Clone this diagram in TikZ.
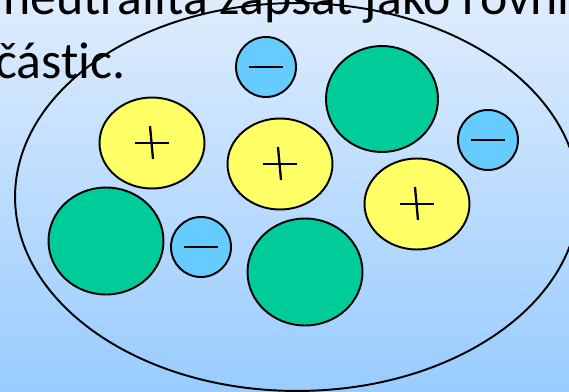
\documentclass[tikz,border=0pt]{standalone}
\usepackage{fontspec}
\setmainfont{Carlito}[Ligatures={NoCommon,NoRare}]
\usetikzlibrary{shapes.geometric}
\definecolor{skytop}{RGB}{222,236,253}
\definecolor{skybottom}{RGB}{153,204,255}
\definecolor{posyellow}{RGB}{255,255,102}
\definecolor{neutralgreen}{RGB}{0,204,153}
\definecolor{negblue}{RGB}{102,204,255}

\begin{document}
\begin{tikzpicture}[x=0.02cm, y=-0.02cm,
  particle/.style={draw, ellipse, line width=1.1pt, inner sep=0pt},
  kation/.style={particle, fill=posyellow, minimum width=2.1cm, minimum height=1.82cm},
  neutral/.style={particle, fill=neutralgreen, minimum width=2.3cm, minimum height=2.14cm},
  anion/.style={particle, fill=negblue, minimum width=1.2cm, minimum height=1.2cm},
  sign/.style={line width=1.3pt},
  slidetext/.style={font=\fontsize{29.5}{35}\selectfont, inner sep=0pt},
]
% Frame and background
\useasboundingbox (0,0) rectangle (569,392);
\clip (0,0) rectangle (569,392);
\fill[top color=skytop, bottom color=skybottom] (0,0) rectangle (569,392);

% Slide text (cut off at the edges)
\node[slidetext, anchor=base west] (line1) at (3,14) {neutralita zapsat jako rovni};
\node[slidetext, anchor=base east] (line2) at (126,78) {částic.};

% Solution boundary
\node[draw, ellipse, line width=1.1pt, inner sep=0pt,
      minimum width=11.28cm, minimum height=7.76cm] (solution) at (297,197) {};

% Neutral particles
\node[neutral, minimum width=2.24cm, minimum height=2.12cm] (g1) at (382,99) {};
\node[neutral] (g2) at (106,241) {};
\node[neutral] (g3) at (305,272) {};

% Cations
\node[kation] (y1) at (152,143) {};
\node[kation] (y2) at (280,164) {};
\node[kation] (y3) at (417,204) {};

% Anions
\node[anion] (b1) at (266,67) {};
\node[anion] (b2) at (488,140) {};
\node[anion] (b3) at (201,247) {};

% Charge signs
\foreach \p in {y1,y2,y3} {
  \draw[sign] (\p.center) ++(-17,0) -- ++(34,0);
  \draw[sign] (\p.center) ++(-2,-17) -- ++(3,33);
}
\foreach \m in {b1,b2,b3} \draw[sign] (\m.center) ++(-17,0) -- ++(34,0);
\end{tikzpicture}
\end{document}
